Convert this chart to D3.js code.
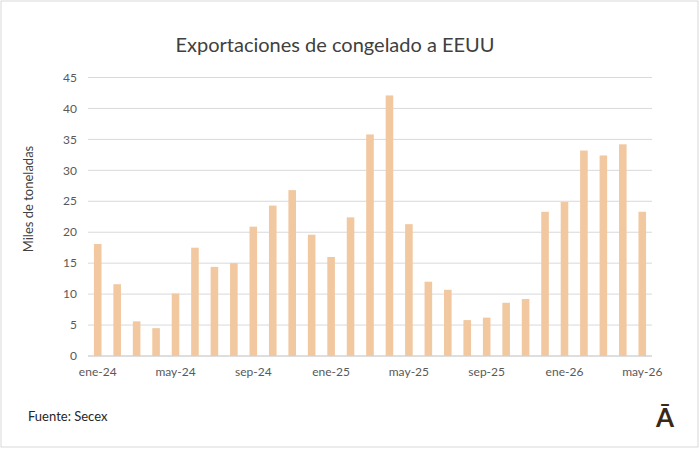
<!DOCTYPE html>
<html>
<head>
<meta charset="utf-8">
<script src="https://cdn.jsdelivr.net/npm/d3@7"></script>
<style>
  body { margin: 0; background: #fff; }
  text { font-family: "Lato", "Open Sans", sans-serif; }
</style>
</head>
<body>
<div id="chart"></div>
<script>
// monthly exports, thousand tonnes
var months = ["ene-24","feb-24","mar-24","abr-24","may-24","jun-24","jul-24","ago-24",
  "sep-24","oct-24","nov-24","dic-24","ene-25","feb-25","mar-25","abr-25","may-25",
  "jun-25","jul-25","ago-25","sep-25","oct-25","nov-25","dic-25","ene-26","feb-26",
  "mar-26","abr-26","may-26"];
var values = [18.1, 11.6, 5.6, 4.5, 10.1, 17.5, 14.4, 15.0, 20.9, 24.3, 26.8, 19.6,
  16.0, 22.4, 35.8, 42.1, 21.3, 12.0, 10.7, 5.8, 6.2, 8.6, 9.2, 23.3, 24.9, 33.2,
  32.4, 34.2, 23.3];
var shownLabels = ["ene-24","may-24","sep-24","ene-25","may-25","sep-25","ene-26","may-26"];
var yTicks = [0, 5, 10, 15, 20, 25, 30, 35, 40, 45];

var width = 700, height = 449;
var margin = {top: 77.5, right: 48, bottom: 93, left: 88};

var svg = d3.select("#chart").append("svg")
    .attr("width", width)
    .attr("height", height);

// outer frame
svg.append("rect")
    .attr("x", 1).attr("y", 1)
    .attr("width", width - 3).attr("height", height - 3)
    .attr("fill", "#fff")
    .attr("stroke", "#d9d9d9")
    .attr("stroke-width", 1);

var x = d3.scaleBand()
    .domain(months)
    .range([margin.left, width - margin.right])
    .paddingInner(0.61)
    .paddingOuter(0.305);

var y = d3.scaleLinear()
    .domain([0, 45])
    .range([height - margin.bottom, margin.top]);

// gridlines
svg.append("g")
    .selectAll("line")
    .data(yTicks)
    .enter().append("line")
    .attr("x1", margin.left)
    .attr("x2", width - margin.right)
    .attr("y1", function(d){ return y(d); })
    .attr("y2", function(d){ return y(d); })
    .attr("stroke", "#d9d9d9")
    .attr("stroke-width", 1);

// y tick labels
svg.append("g")
    .selectAll("text")
    .data(yTicks)
    .enter().append("text")
    .attr("x", 77)
    .attr("y", function(d){ return y(d); })
    .attr("dy", "0.35em")
    .attr("text-anchor", "end")
    .attr("font-size", 12)
    .attr("fill", "#595959")
    .text(function(d){ return d; });

// bars
svg.append("g")
    .selectAll("rect")
    .data(values)
    .enter().append("rect")
    .attr("x", function(d, i){ return x(months[i]); })
    .attr("y", function(d){ return y(d); })
    .attr("width", x.bandwidth())
    .attr("height", function(d){ return y(0) - y(d); })
    .attr("fill", "#f1c8a0");

// x axis line
svg.append("line")
    .attr("x1", margin.left)
    .attr("x2", width - margin.right)
    .attr("y1", y(0))
    .attr("y2", y(0))
    .attr("stroke", "#d0d0d0")
    .attr("stroke-width", 1);

// x labels
svg.append("g")
    .selectAll("text")
    .data(shownLabels)
    .enter().append("text")
    .attr("x", function(d){ return x(d) + x.bandwidth() / 2; })
    .attr("y", 376)
    .attr("text-anchor", "middle")
    .attr("font-size", 12)
    .attr("fill", "#595959")
    .text(function(d){ return d; });

// title
svg.append("text")
    .attr("x", 335)
    .attr("y", 52)
    .attr("text-anchor", "middle")
    .attr("font-size", 20)
    .attr("fill", "#404040")
    .text("Exportaciones de congelado a EEUU");

// y label
svg.append("text")
    .attr("transform", "translate(33,199) rotate(-90)")
    .attr("text-anchor", "middle")
    .attr("font-size", 13)
    .attr("fill", "#404040")
    .text("Miles de toneladas");

// source
svg.append("text")
    .attr("x", 28)
    .attr("y", 421)
    .attr("font-size", 13)
    .attr("fill", "#262626")
    .text("Fuente: Secex");

// logo
svg.append("text")
    .attr("x", 665)
    .attr("y", 427)
    .attr("text-anchor", "middle")
    .attr("font-size", 26)
    .attr("font-weight", "bold")
    .attr("fill", "#3b2716")
    .text("Ā");
</script>
</body>
</html>
